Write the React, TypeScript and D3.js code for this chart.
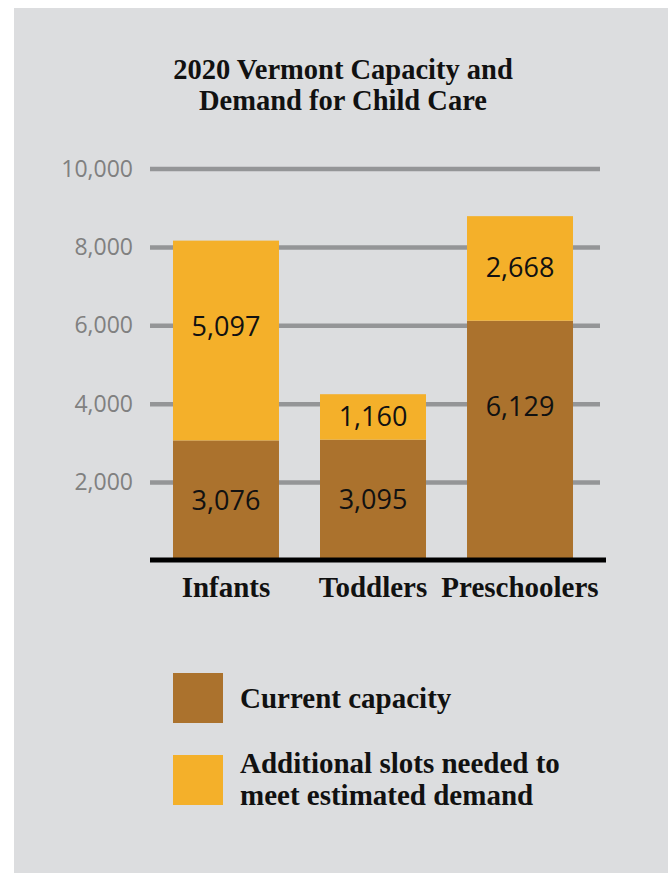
import React from "react";
import * as d3 from "d3";

const categories = ["Infants", "Toddlers", "Preschoolers"];
const currentCapacity = [3076, 3095, 6129];
const additionalSlots = [5097, 1160, 2668];
const yTicks = [2000, 4000, 6000, 8000, 10000];
const titleLines = ["2020 Vermont Capacity and", "Demand for Child Care"];
const seriesNames = ["Current capacity", "Additional slots needed to|meet estimated demand"];

const W = 670;
const H = 873;
const BG = "#dcdddf";
const BROWN = "#ab722d";
const YELLOW = "#f4b02a";
const GRID = "#949597";
const SERIF = "'Liberation Serif', 'Times New Roman', serif";
const SANS = "'Open Sans', 'Noto Sans', sans-serif";

export default function App() {
  const x = d3
    .scaleBand<string>()
    .domain(categories)
    .range([148, 598])
    .paddingInner(0.279)
    .paddingOuter(0.17);
  const y = d3.scaleLinear().domain([0, 10000]).range([561, 169]);
  const fmt = d3.format(",");

  const rows = categories.map((c, i) => ({
    cat: c,
    cap: currentCapacity[i],
    add: additionalSlots[i],
  }));
  const stack = d3.stack<any>().keys(["cap", "add"])(rows as any);
  const colors = [BROWN, YELLOW];

  return (
    <svg
      width={W}
      height={H}
      style={{ position: "absolute", left: 0, top: 0, display: "block" }}
    >
      <rect x={0} y={0} width={W} height={H} fill="#ffffff" />
      <rect x={14} y={8} width={654} height={H - 8} fill={BG} />

      {titleLines.map((t, i) => (
        <text
          key={i}
          x={343}
          y={79 + i * 31}
          textAnchor="middle"
          fontFamily={SERIF}
          fontWeight="bold"
          fontSize={28.5}
          fill="#111"
        >
          {t}
        </text>
      ))}

      {yTicks.map((t) => (
        <g key={t}>
          <line x1={150} x2={600} y1={y(t)} y2={y(t)} stroke={GRID} strokeWidth={4.5} />
          <text
            x={133}
            y={y(t)}
            dy="0.33em"
            textAnchor="end"
            fontFamily={SANS}
            fontSize={23}
            fill="#808080"
          >
            {fmt(t)}
          </text>
        </g>
      ))}

      {stack.map((layer, li) => (
        <g key={li}>
          {layer.map((d: any, i: number) => {
            const top = y(d[1]);
            const bot = y(d[0]);
            const h = bot - top;
            const cy = top + Math.min(h / 2, 86);
            const val = d[1] - d[0];
            return (
              <g key={i}>
                <rect
                  x={x(categories[i])}
                  y={top}
                  width={x.bandwidth()}
                  height={h}
                  fill={colors[li]}
                />
                <text
                  x={(x(categories[i]) as number) + x.bandwidth() / 2}
                  y={cy}
                  dy="0.33em"
                  textAnchor="middle"
                  fontFamily={SANS}
                  fontSize={27}
                  fill="#111"
                >
                  {fmt(val)}
                </text>
              </g>
            );
          })}
        </g>
      ))}

      <line x1={150} x2={606} y1={560} y2={560} stroke="#000" strokeWidth={5} />

      {categories.map((c) => (
        <text
          key={c}
          x={(x(c) as number) + x.bandwidth() / 2}
          y={597}
          textAnchor="middle"
          fontFamily={SERIF}
          fontWeight="bold"
          fontSize={29}
          fill="#111"
        >
          {c}
        </text>
      ))}

      {seriesNames.map((name, i) => {
        const sy = 673 + i * 82;
        const lines = name.split("|");
        return (
          <g key={i}>
            <rect x={173} y={sy} width={50} height={50} fill={colors[i]} />
            {lines.map((ln, j) => (
              <text
                key={j}
                x={240}
                y={(i === 0 ? 708 : 773) + j * 32}
                fontFamily={SERIF}
                fontWeight="bold"
                fontSize={29}
                fill="#111"
              >
                {ln}
              </text>
            ))}
          </g>
        );
      })}
    </svg>
  );
}
